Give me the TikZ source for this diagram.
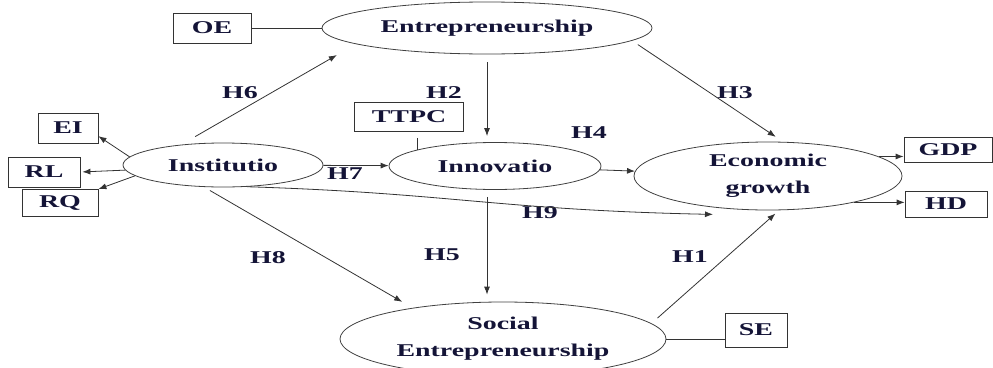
\documentclass[tikz,border=0pt]{standalone}
\usepackage{fontspec}
\setmainfont{Liberation Serif}[FakeStretch=1.55]
\usetikzlibrary{shapes.geometric,arrows.meta}
\definecolor{inkblue}{RGB}{20,20,55}

\begin{document}
\begin{tikzpicture}[x=1pt,y=-1pt,
  every node/.style={font=\fontsize{18}{27}\selectfont\bfseries, text=inkblue},
  construct/.style={draw=black!75, ellipse, inner sep=0pt, align=center, line width=0.8pt},
  indicator/.style={draw=black!80, rectangle, inner sep=0pt, line width=0.8pt},
  link/.style={line width=0.8pt, draw=black!80},
  hyp/.style={link, -{Latex[length=8pt,width=6pt]}}]
\useasboundingbox (0,0) rectangle (993,367);

\node[construct, minimum width=330pt, minimum height=52pt] (ent) at (487,28) {Entrepreneurship};
\node[construct, minimum width=200pt, minimum height=44pt] (inst) at (223,165) {Institutio};
\node[construct, minimum width=212pt, minimum height=47pt] (inno) at (495,166) {Innovatio};
\node[construct, minimum width=268pt, minimum height=68pt] (econ) at (768,176) {Economic\\growth};
\node[construct, minimum width=326pt, minimum height=74pt] (soc) at (503,339) {Social\\Entrepreneurship};

\node[indicator, minimum width=78pt, minimum height=30pt] (oe) at (212,28) {OE};
\node[indicator, minimum width=109pt, minimum height=29pt] (ttpc) at (409,117) {TTPC};
\node[indicator, minimum width=60pt, minimum height=30pt] (ei) at (68,128) {EI};
\node[indicator, minimum width=72pt, minimum height=30pt] (rl) at (44,172) {RL};
\node[indicator, minimum width=76pt, minimum height=27pt] (rq) at (60,203) {RQ};
\node[indicator, minimum width=88pt, minimum height=25pt] (gdp) at (948,150) {GDP};
\node[indicator, minimum width=82pt, minimum height=26pt] (hd) at (946,204) {HD};
\node[indicator, minimum width=62pt, minimum height=34pt] (se) at (756,330) {SE};

\foreach \name/\x/\y in {H1/690/257, H2/444/93, H3/735/93, H4/589/133, H5/442/255,
                         H6/240/93, H7/345/174, H8/268/258, H9/540/213}
  \node (\name) at (\x,\y) {\name};

\draw[link] (oe) -- (ent);
\draw[hyp, shorten <=16pt, shorten >=22pt] (inst.154) -- (ent.187);
\draw[hyp, shorten <=8pt, shorten >=6pt] (ent.south) -- (ent.south |- inno.north);
\draw[hyp, shorten <=7pt, shorten >=9pt] (ent.355) -- (econ.66);
\draw[link, shorten <=6pt] (ttpc.south -| inno.168) -- (inno.168);
\draw[hyp] (inst) -- (inno);
\draw[hyp] (inno) -- (econ);
\draw[hyp, shorten <=7pt, shorten >=7pt] (inno.south -| ent.south) -- (soc.north -| ent.south);
\draw[hyp, shorten <=7pt, shorten >=12pt] (inst.229) -- (soc.161);
\draw[hyp, shorten <=8pt, shorten >=5pt] (soc.6) -- (econ.288);
\draw[hyp] (inst.318) .. controls (450,193) and (500,210) .. ([xshift=-55pt,yshift=-4pt]econ.south);
\draw[link] (soc.east) -- (soc.east -| se.west);
\draw[hyp] (inst.175) -- (ei.-15);
\draw[hyp, shorten >=2pt] (inst.183) -- (rl.east);
\draw[hyp] (inst.187) -- (rq.north east);
\draw[hyp] (econ.10) -- (econ.10 -| gdp.west);
\draw[hyp] (econ.343) -- (econ.343 -| hd.west);
\end{tikzpicture}
\end{document}
